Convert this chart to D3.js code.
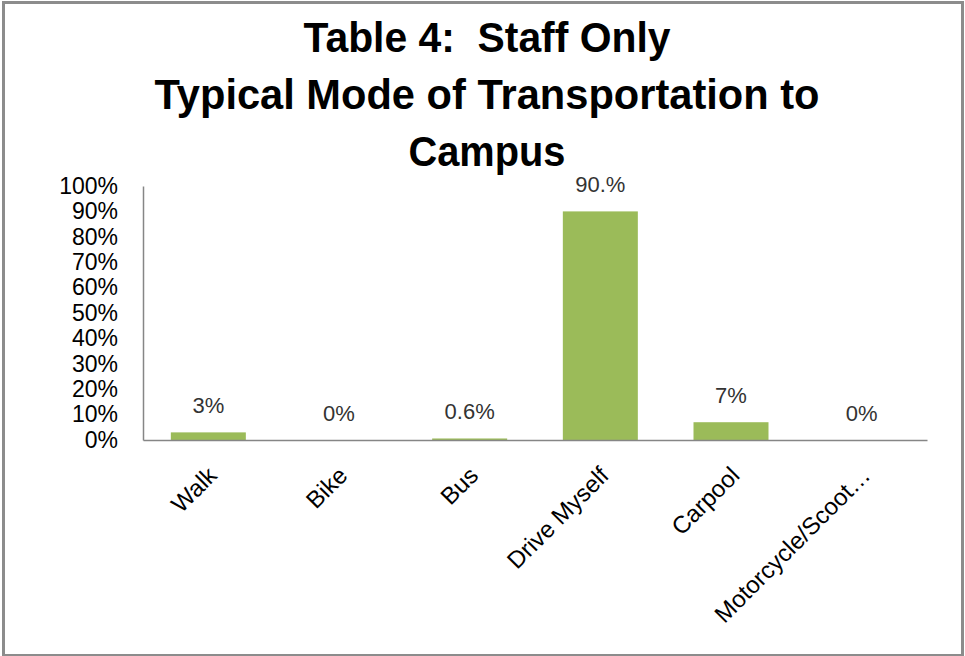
<!DOCTYPE html>
<html>
<head>
<meta charset="utf-8">
<script src="https://cdn.jsdelivr.net/npm/d3@7"></script>
<style>
  body { margin: 0; background: #fff; }
  svg text { font-family: "Liberation Sans", Arial, sans-serif; }
</style>
</head>
<body>
<div id="root"></div>
<script>
// chart data
const categories = ["Walk", "Bike", "Bus", "Drive Myself", "Carpool", "Motorcycle/Scoot…"];
const values = [3, 0, 0.6, 90, 7, 0];
const valueLabels = ["3%", "0%", "0.6%", "90.%", "7%", "0%"];
const yTicks = [0, 10, 20, 30, 40, 50, 60, 70, 80, 90, 100];
const titleLines = ["Table 4:  Staff Only", "Typical Mode of Transportation to", "Campus"];

function createBarChart() {
  const width = 965;
  const height = 656;
  const left = 143, right = 927, top = 186, bottom = 440;

  const svg = d3.select("#root")
    .append("svg")
    .attr("width", width)
    .attr("height", height);

  // outer frame
  svg.append("rect")
    .attr("x", 3.5)
    .attr("y", 2.5)
    .attr("width", 959)
    .attr("height", 653)
    .attr("fill", "#fff")
    .attr("stroke", "#8c8c8c")
    .attr("stroke-width", 3);

  // title, squeezed to the narrow look of the original
  const titleWidths = [367, 665, 157];
  svg.append("g")
    .selectAll("text")
    .data(titleLines)
    .enter()
    .append("text")
    .attr("x", 487)
    .attr("y", (d, i) => 52 + i * 57)
    .attr("text-anchor", "middle")
    .attr("font-size", 42)
    .attr("font-weight", "bold")
    .attr("textLength", (d, i) => titleWidths[i])
    .attr("lengthAdjust", "spacingAndGlyphs")
    .style("white-space", "pre")
    .attr("fill", "#000")
    .text(d => d);

  const xScale = d3.scaleBand()
    .domain(categories)
    .range([left, right])
    .paddingInner(0.426)
    .paddingOuter(0.213);

  const yScale = d3.scaleLinear()
    .domain([0, 100])
    .range([bottom, top]);

  // y axis
  const yAxis = d3.axisLeft(yScale)
    .tickValues(yTicks)
    .tickFormat(d => d + "%")
    .tickSize(0)
    .tickSizeOuter(0)
    .tickPadding(25);

  const gy = svg.append("g")
    .attr("transform", `translate(${left}, 0)`)
    .call(yAxis);
  gy.select(".domain").attr("stroke", "#868686").attr("stroke-width", 1.5);
  gy.selectAll(".tick text")
    .attr("font-size", 23)
    .attr("fill", "#000")
    .attr("font-family", null);

  // bars
  svg.selectAll(".bar")
    .data(values)
    .enter()
    .append("rect")
    .attr("class", "bar")
    .attr("x", (d, i) => xScale(categories[i]))
    .attr("y", d => yScale(d))
    .attr("width", xScale.bandwidth())
    .attr("height", d => bottom - yScale(d))
    .attr("fill", "#9bbb59");

  // x axis
  const xAxis = d3.axisBottom(xScale).tickSize(0).tickSizeOuter(0);
  const gx = svg.append("g")
    .attr("transform", `translate(0, ${bottom})`)
    .call(xAxis);
  gx.select(".domain").attr("stroke", "#868686").attr("stroke-width", 1.5);
  gx.selectAll(".tick text")
    .attr("font-size", 24)
    .attr("fill", "#000")
    .attr("font-family", null)
    .attr("x", 0)
    .attr("y", 0)
    .attr("dy", null)
    .attr("text-anchor", "end")
    .attr("transform", "translate(10, 37) rotate(-45)");

  // value labels
  svg.selectAll(".value-label")
    .data(values)
    .enter()
    .append("text")
    .attr("class", "value-label")
    .attr("x", (d, i) => xScale(categories[i]) + xScale.bandwidth() / 2)
    .attr("y", d => yScale(d) - 19)
    .attr("text-anchor", "middle")
    .attr("font-size", 22)
    .attr("fill", "#333")
    .text((d, i) => valueLabels[i]);
}

createBarChart();
</script>
</body>
</html>
